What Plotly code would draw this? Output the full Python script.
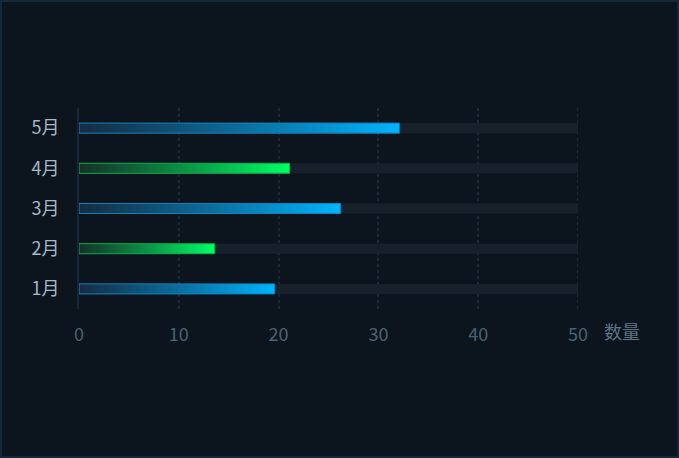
import plotly.graph_objects as go

categories = ["1月", "2月", "3月", "4月", "5月"]
values = [19.6, 13.6, 26.2, 21.1, 32.1]
max_value = 50
bar_colors = [
    ("rgba(20,45,70,0.9)", "#00b4ff", "#1a7fb8"),
    ("rgba(20,50,40,0.9)", "#00ff66", "#10a84c"),
    ("rgba(20,45,70,0.9)", "#00b4ff", "#1a7fb8"),
    ("rgba(20,50,40,0.9)", "#00ff66", "#10a84c"),
    ("rgba(20,45,70,0.9)", "#00b4ff", "#1a7fb8"),
]
x_ticks = [0, 10, 20, 30, 40, 50]
axis_name = "数量"

W, H = 679, 458
ML, MR, MT, MB = 79, 101, 108, 149
half = 0.125  # half bar thickness in category units
grid_color = "#1a2937"

fig = go.Figure()

# background track bars
fig.add_trace(go.Bar(
    x=[max_value] * len(categories), y=list(range(len(categories))),
    orientation="h", width=2 * half, marker=dict(color="#18212b", line=dict(width=0)),
    hoverinfo="skip", showlegend=False,
))

for i, (cat, v) in enumerate(zip(categories, values)):
    c0, c1, lc = bar_colors[i]
    fig.add_trace(go.Scatter(
        x=[0, v, v, 0, 0],
        y=[i - half, i - half, i + half, i + half, i - half],
        mode="lines", fill="toself",
        fillgradient=dict(type="horizontal", colorscale=[[0, c0], [1, c1]]),
        line=dict(color=lc, width=1),
        name=cat, showlegend=False, hoverinfo="skip",
    ))

pw, ph = W - ML - MR, H - MT - MB

# gridline at the range end (plotly drops the edge gridline)
fig.add_shape(
    type="line", xref="x", yref="paper", x0=max_value, x1=max_value, y0=0, y1=1,
    line=dict(color=grid_color, width=2, dash="dot"), layer="below",
)

fig.add_annotation(
    text=axis_name, xref="paper", yref="paper",
    x=(602 - ML) / pw, y=-(331 - (H - MB)) / ph,
    xanchor="left", yanchor="middle", showarrow=False,
    font=dict(size=18, color="#5d7384", family="Noto Sans CJK SC"),
)

# outer frame
fig.add_shape(
    type="rect", xref="paper", yref="paper",
    x0=-(ML - 1) / pw, x1=1 + (MR - 1) / pw, y0=-(MB - 1) / ph, y1=1 + (MT - 1) / ph,
    line=dict(color="#15283a", width=2), layer="below",
)

fig.update_layout(
    width=W, height=H,
    margin=dict(l=ML, r=MR, t=MT, b=MB),
    paper_bgcolor="#0c151d", plot_bgcolor="#0c151d",
    font=dict(family="Noto Sans CJK SC, Noto Sans, sans-serif"),
    barmode="overlay",
    xaxis=dict(
        range=[0, max_value], tickvals=x_ticks, showgrid=True,
        gridcolor=grid_color, griddash="dot", gridwidth=2,
        showline=False, zeroline=False, ticks="outside", ticklen=9,
        tickcolor="rgba(0,0,0,0)", tickfont=dict(size=18, color="#4b6172"),
        fixedrange=True,
    ),
    yaxis=dict(
        range=[-0.5, len(categories) - 0.5],
        tickvals=list(range(len(categories))), ticktext=categories,
        showgrid=False, zeroline=False, showline=True, linecolor="#16263a", linewidth=2,
        ticks="outside", ticklen=14, tickcolor="rgba(0,0,0,0)",
        tickfont=dict(size=18, color="#a5b8c5"), fixedrange=True,
    ),
)

fig.write_html("out.html")
